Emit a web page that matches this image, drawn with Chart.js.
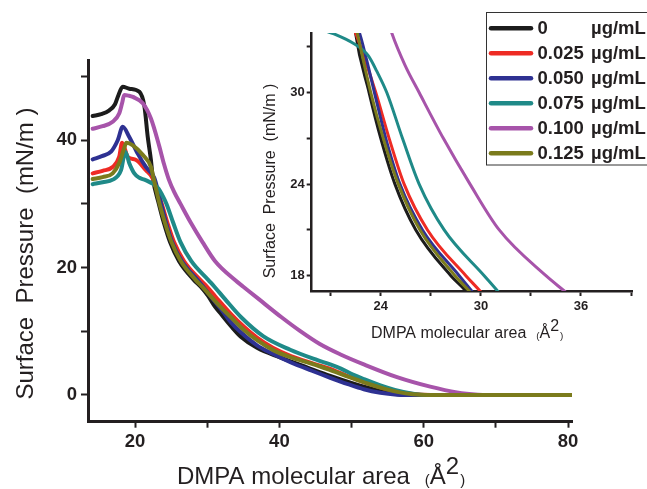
<!DOCTYPE html>
<html><head><meta charset="utf-8">
<script src="https://cdn.jsdelivr.net/npm/chart.js@4.4.1/dist/chart.umd.min.js"></script>
<style>
html,body{margin:0;padding:0;background:#fff;}
#wrap{position:relative;width:647px;height:489px;overflow:hidden;}
canvas{position:absolute;left:0;top:0;}
</style></head><body>
<div id="wrap"><canvas id="main" width="647" height="489"></canvas><canvas id="inset" width="647" height="489"></canvas></div>
<script>
// ---------------- DATA ----------------
const concentrations = ['0', '0.025', '0.050', '0.075', '0.100', '0.125'];
const unitLabel = 'µg/mL';

// 0 µg/mL
const area0 = [14.13, 15.3, 16.44, 17.2, 17.6, 18.29, 19.2, 20.6, 21.3, 21.76, 22.2, 22.46, 23.3, 24.0, 24.85, 26.1, 28.2, 29.1, 30.1, 31.0, 32.0, 33.3, 34.7, 36.9, 40.1, 43.9, 47.05, 51.7, 55.0, 58.0, 80.5];
const pres0 = [43.8, 44.1, 44.7, 45.6, 46.8, 48.4, 48.1, 47.6, 45.3, 40.5, 36.9, 34.1, 30.0, 27.0, 24.0, 21.0, 18.0, 17.0, 15.6, 14.0, 12.6, 10.8, 9.1, 7.4, 5.9, 4.3, 3.0, 1.3, 0.4, 0, 0];
// 0.025 µg/mL
const area1 = [14.13, 15.5, 16.9, 17.8, 18.2, 18.99, 20.14, 21.5, 22.4, 23.1, 23.7, 24.5, 25.4, 26.8, 29.1, 29.95, 31.1, 33.3, 35.1, 36.9, 39.1, 41.6, 44.5, 47.05, 49.6, 52.0, 54.3, 56.3, 58.5, 61.0, 80.5];
const pres1 = [34.8, 35.2, 35.8, 37.4, 39.6, 37.4, 36.9, 35.3, 34.1, 32.0, 30.0, 27.0, 24.0, 21.0, 18.0, 17.0, 15.5, 12.7, 10.7, 9.0, 7.4, 6.1, 5.0, 4.1, 2.9, 1.9, 1.1, 0.55, 0.15, 0, 0];
// 0.050 µg/mL
const area2 = [14.13, 15.4, 16.67, 17.6, 18.29, 19.2, 20.37, 21.5, 22.66, 23.16, 23.62, 24.3, 25.15, 26.5, 28.7, 29.45, 30.4, 31.9, 33.3, 34.7, 36.9, 39.0, 41.6, 44.5, 47.05, 49.5, 51.7, 54.0, 56.3, 57.5, 80.5];
const pres2 = [37.0, 37.5, 38.2, 40.0, 42.1, 40.5, 37.9, 35.8, 34.1, 32.1, 30.0, 27.0, 24.0, 21.0, 18.0, 17.0, 15.6, 13.5, 11.4, 9.8, 7.8, 6.5, 5.1, 3.8, 2.7, 1.7, 0.9, 0.35, 0.05, 0, 0];
// 0.075 µg/mL
const area3 = [14.13, 15.5, 16.9, 18.06, 18.65, 19.2, 19.9, 20.6, 21.3, 21.9, 22.4, 22.8, 23.26, 23.76, 24.36, 25.3, 26.3, 27.8, 30.2, 31.0, 32.5, 34.7, 37.8, 41.5, 45.2, 47.05, 48.6, 50.2, 51.7, 54.0, 56.0, 58.3, 60.5, 80.5];
const pres3 = [33.1, 33.4, 33.8, 35.3, 38.2, 36.4, 34.8, 34.1, 33.8, 33.5, 33.2, 32.9, 32.4, 31.4, 30.0, 27.0, 24.0, 21.0, 18.0, 17.0, 15.0, 12.2, 9.2, 7.1, 5.5, 4.8, 4.1, 3.2, 2.5, 1.5, 0.8, 0.25, 0, 0];
// 0.100 µg/mL
const area4 = [14.13, 15.5, 16.9, 17.8, 18.2, 18.5, 19.1, 19.7, 21.07, 22.2, 23.37, 24.0, 24.66, 25.45, 26.3, 27.75, 29.35, 31.1, 33.9, 35.0, 37.2, 40.3, 42.8, 45.6, 48.4, 51.7, 56.3, 60.9, 64.6, 67.5, 69.0, 80.5];
const pres4 = [41.8, 42.2, 42.9, 44.2, 45.8, 47.1, 47.0, 46.8, 45.8, 43.4, 39.0, 36.3, 33.9, 31.8, 30.0, 27.0, 24.0, 21.0, 18.0, 17.0, 15.0, 12.2, 10.1, 8.0, 6.4, 4.8, 2.8, 1.3, 0.4, 0.05, 0, 0];
// 0.125 µg/mL
const area5 = [14.13, 15.5, 16.9, 17.8, 18.45, 18.8, 19.7, 21.07, 22.2, 22.55, 23.4, 24.15, 25.05, 26.35, 28.45, 29.3, 30.1, 31.7, 33.3, 35.1, 36.9, 39.2, 41.6, 44.5, 47.05, 49.7, 52.2, 54.5, 56.5, 58.5, 60.5, 80.5];
const pres5 = [33.9, 34.2, 34.8, 36.4, 38.6, 39.6, 39.2, 37.7, 35.8, 34.1, 30.0, 27.0, 24.0, 21.0, 18.0, 17.0, 16.0, 14.0, 12.2, 10.2, 8.6, 7.0, 5.9, 4.9, 3.9, 2.8, 1.8, 1.0, 0.45, 0.12, 0, 0];

const mainXTicks = [20, 30, 40, 50, 60, 70, 80];
const mainXLabels = [20, 40, 60, 80];
const mainYTicks = [0, 10, 20, 30, 40, 50];
const mainYLabels = [0, 20, 40];
const insetXTicks = [21, 24, 27, 30, 33, 36, 39];
const insetXLabels = [24, 30, 36];
const insetYTicks = [18, 21, 24, 27, 30, 33];
const insetYLabels = [18, 24, 30];

// ---------------- STYLE ----------------
const areas = [area0, area1, area2, area3, area4, area5];
const pressures = [pres0, pres1, pres2, pres3, pres4, pres5];
const colors = ['#1c1c1c', '#ee2b24', '#2e3192', '#1f8a88', '#a754aa', '#7b7b1c'];
const TEXT = '#231f20';
const FONT = '"Liberation Sans", Arial, Helvetica, sans-serif';

function makeDatasets(width) {
  return areas.map((a, i) => ({
    label: concentrations[i] + ' ' + unitLabel,
    data: a.map((x, j) => ({ x: x, y: pressures[i][j] })),
    borderColor: colors[i],
    backgroundColor: colors[i],
    borderWidth: width,
    pointRadius: 0,
    fill: false,
    cubicInterpolationMode: 'monotone',
    borderCapStyle: 'round',
    borderJoinStyle: 'round',
    order: 5 - i
  }));
}

function setTicks(list) { return (s) => { s.ticks = list.map(v => ({ value: v })); }; }

function drawAreaTitle(ctx, x, y, size) {
  ctx.save();
  ctx.fillStyle = TEXT;
  ctx.textBaseline = 'alphabetic';
  ctx.textAlign = 'left';
  ctx.font = size + 'px ' + FONT;
  const t = 'DMPA molecular area';
  ctx.fillText(t, x, y);
  let cx = x + ctx.measureText(t).width + size * 0.62;
  ctx.font = (size * 0.62) + 'px ' + FONT;
  ctx.fillText('(', cx, y + size * 0.04); cx += ctx.measureText('(').width;
  ctx.font = size + 'px ' + FONT;
  ctx.fillText('Å', cx, y); cx += ctx.measureText('Å').width;
  ctx.fillText('2', cx, y - size * 0.42); cx += ctx.measureText('2').width + size * 0.05;
  ctx.font = (size * 0.62) + 'px ' + FONT;
  ctx.fillText(')', cx, y + size * 0.04);
  ctx.restore();
}
function drawPressureTitle(ctx, x, y, size) {
  ctx.save();
  ctx.fillStyle = TEXT;
  ctx.translate(x, y);
  ctx.rotate(-Math.PI / 2);
  ctx.textAlign = 'center';
  ctx.textBaseline = 'alphabetic';
  ctx.font = size + 'px ' + FONT;
  ctx.fillText('Surface  Pressure  (mN/m )', 0, 0);
  ctx.restore();
}

const mainTitles = {
  id: 'mainTitles',
  afterDraw(chart) {
    const ctx = chart.ctx;
    drawAreaTitle(ctx, 177, 484, 24);
    drawPressureTitle(ctx, 32.5, 253.5, 24);
  }
};
const insetDecor = {
  id: 'insetDecor',
  afterDraw(chart) {
    const ctx = chart.ctx;
    drawAreaTitle(ctx, 371, 338, 16);
    drawPressureTitle(ctx, 275, 181, 16);
    // legend box
    ctx.save();
    ctx.fillStyle = '#ffffff';
    ctx.fillRect(486.5, 12.5, 200, 152.5);
    ctx.strokeStyle = '#333333';
    ctx.lineWidth = 1;
    ctx.strokeRect(486.5, 12.5, 200, 152.5);
    ctx.font = 'bold 18.5px ' + FONT;
    ctx.textBaseline = 'middle';
    ctx.textAlign = 'left';
    concentrations.forEach((c, i) => {
      const y = 28.3 + i * 25;
      ctx.strokeStyle = colors[i];
      ctx.lineWidth = 4.5;
      ctx.lineCap = 'round';
      ctx.beginPath(); ctx.moveTo(491, y); ctx.lineTo(531, y); ctx.stroke();
      ctx.fillStyle = TEXT;
      ctx.fillText(c, 537.5, y + 1);
      ctx.fillText(unitLabel, 591, y + 1);
    });
    ctx.restore();
  }
};

function axisOpts(min, max, tickList, labelList, fontSize, tl, pad, bw, fit) {
  return {
    type: 'linear', min: min, max: max,
    afterBuildTicks: setTicks(tickList),
    afterFit: fit,
    ticks: {
      autoSkip: false, maxRotation: 0, padding: pad, color: TEXT,
      font: { family: FONT, size: fontSize, weight: 'bold' },
      callback: (v) => labelList.includes(v) ? String(v) : ''
    },
    grid: { drawOnChartArea: false, drawTicks: true, tickLength: tl, tickWidth: 2, tickColor: TEXT, color: TEXT },
    border: { display: true, width: bw, color: TEXT }
  };
}

Chart.defaults.font.family = FONT;

new Chart(document.getElementById('main'), {
  type: 'line',
  data: { datasets: makeDatasets(4) },
  options: {
    responsive: false, animation: false, devicePixelRatio: 1,
    layout: { padding: { left: 0, top: 60, right: 75, bottom: 0 } },
    plugins: { legend: { display: false }, tooltip: { enabled: false } },
    scales: {
      x: axisOpts(13.48, 80.55, mainXTicks, mainXLabels, 18.5, 6, 3, 3, (s) => { s.height = 67.3; }),
      y: axisOpts(-4.2, 52.6, mainYTicks, mainYLabels, 18.5, 7, 4, 3, (s) => { s.width = 88; })
    }
  },
  plugins: [mainTitles]
});

new Chart(document.getElementById('inset'), {
  type: 'line',
  data: { datasets: makeDatasets(3) },
  options: {
    responsive: false, animation: false, devicePixelRatio: 1,
    layout: { padding: { left: 266.7, top: 33, right: 14.3, bottom: 158 } },
    plugins: { legend: { display: false }, tooltip: { enabled: false } },
    scales: {
      x: axisOpts(19.86, 39.1, insetXTicks, insetXLabels, 13, 5, 3, 2.5, (s) => { s.height = 40; }),
      y: axisOpts(17.0, 33.9, insetYTicks, insetYLabels, 13, 5, 2, 2.5, (s) => { s.width = 45; })
    }
  },
  plugins: [insetDecor]
});
</script></body></html>
